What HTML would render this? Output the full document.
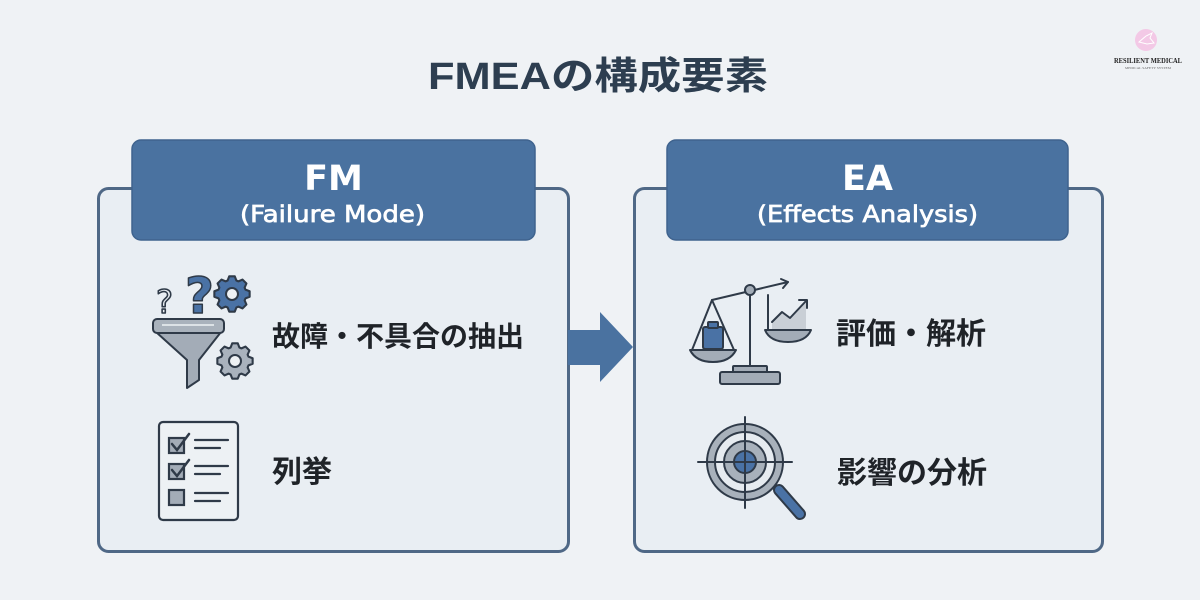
<!DOCTYPE html>
<html lang="ja">
<head>
<meta charset="utf-8">
<style>
  html,body{margin:0;padding:0;background:#eff2f5;}
  body{width:1200px;height:600px;overflow:hidden;}
  svg{display:block;}
  .jp{font-family:"Liberation Sans","Noto Sans CJK JP",sans-serif;}
  .lat{font-family:"DejaVu Sans","Liberation Sans",sans-serif;}
</style>
</head>
<body>
<svg width="1200" height="600" viewBox="0 0 1200 600" xmlns="http://www.w3.org/2000/svg">
  <defs>
    <polygon id="gear" points="12.84,-4.17 16.8,-2.65 16.8,2.65 12.84,4.17 12.03,6.13 13.75,10 10,13.75 6.13,12.03 4.17,12.84 2.65,16.8 -2.65,16.8 -4.17,12.84 -6.13,12.03 -10,13.75 -13.75,10 -12.03,6.13 -12.84,4.17 -16.8,2.65 -16.8,-2.65 -12.84,-4.17 -12.03,-6.13 -13.75,-10 -10,-13.75 -6.13,-12.03 -4.17,-12.84 -2.65,-16.8 2.65,-16.8 4.17,-12.84 6.13,-12.03 10,-13.75 13.75,-10 12.03,-6.13"/>
  </defs>
  <rect x="0" y="0" width="1200" height="600" fill="#eff2f5"/>

  <!-- Title -->
  <text class="jp" x="428" y="89" font-size="38" font-weight="700" fill="#2d3e50" textLength="340" lengthAdjust="spacingAndGlyphs">FMEAの構成要素</text>

  <!-- Logo -->
  <circle cx="1146" cy="40" r="11" fill="#f3c9e6"/>
  <path d="M1139 42 L1146 36 L1152 33 L1150 38 L1154 43 L1147 44 Z" fill="none" stroke="#ffffff" stroke-width="1"/>
  <text x="1148" y="63" font-family="Liberation Serif, serif" font-size="7.5" font-weight="700" fill="#222" text-anchor="middle" textLength="68" lengthAdjust="spacingAndGlyphs">RESILIENT MEDICAL</text>
  <text x="1148" y="69" font-family="Liberation Serif, serif" font-size="3" fill="#666" text-anchor="middle" textLength="46" lengthAdjust="spacingAndGlyphs">MEDICAL SAFETY SYSTEM</text>

  <!-- Left panel -->
  <rect x="98.5" y="188.5" width="470" height="363" rx="10" fill="#e9eef3" stroke="#4f6886" stroke-width="3"/>
  <rect x="132" y="140" width="403" height="100" rx="9" fill="#4a72a0" stroke="#3f638e" stroke-width="1.5"/>
  <text class="lat" x="333.5" y="190" font-size="35" font-weight="700" fill="#ffffff" text-anchor="middle">FM</text>
  <text class="lat" x="240" y="222" font-size="23" fill="#ffffff" stroke="#ffffff" stroke-width="0.7" textLength="185" lengthAdjust="spacingAndGlyphs">(Failure Mode)</text>

  <!-- Right panel -->
  <rect x="634.5" y="188.5" width="468" height="363" rx="10" fill="#e9eef3" stroke="#4f6886" stroke-width="3"/>
  <rect x="667" y="140" width="401" height="100" rx="9" fill="#4a72a0" stroke="#3f638e" stroke-width="1.5"/>
  <text class="lat" x="867.5" y="190" font-size="35" font-weight="700" fill="#ffffff" text-anchor="middle">EA</text>
  <text class="lat" x="757" y="222" font-size="23" fill="#ffffff" stroke="#ffffff" stroke-width="0.7" textLength="221" lengthAdjust="spacingAndGlyphs">(Effects Analysis)</text>

  <!-- Arrow -->
  <polygon points="568,330 600,330 600,312 633,347 600,382 600,365 568,365" fill="#4a72a0"/>

  <!-- Body labels -->
  <text class="jp" x="272" y="346" font-size="28" font-weight="700" fill="#1f2328" textLength="252" lengthAdjust="spacingAndGlyphs">故障・不具合の抽出</text>
  <text class="jp" x="272" y="482" font-size="30" font-weight="700" fill="#1f2328">列挙</text>
  <text class="jp" x="836" y="344" font-size="30" font-weight="700" fill="#1f2328" textLength="150" lengthAdjust="spacingAndGlyphs">評価・解析</text>
  <text class="jp" x="837" y="483" font-size="30" font-weight="700" fill="#1f2328" textLength="150" lengthAdjust="spacingAndGlyphs">影響の分析</text>

  <!-- Funnel icon -->
  <g stroke="#2f3a48" stroke-width="2" stroke-linejoin="round">
    <text x="156" y="313" font-family="DejaVu Sans, sans-serif" font-size="32" fill="none" stroke="#2f3a48" stroke-width="1.6">?</text>
    <text x="185" y="313" font-family="DejaVu Sans, sans-serif" font-size="50" font-weight="700" fill="#4a72a5" stroke="#2f3a48" stroke-width="1.5">?</text>
    <use href="#gear" transform="translate(232,294) scale(1.05)" fill="#4a72a5"/>
    <circle cx="232" cy="294" r="6" fill="#eef1f4"/>
    <polygon points="156,332 221,332 199,360 199,380 187,388 187,360" fill="#a3acb7"/>
    <rect x="153" y="319" width="71" height="14" rx="4" fill="#a9b2bc"/>
    <line x1="162" y1="325" x2="214" y2="325" stroke="#eef1f4" stroke-width="1.5"/>
    <use href="#gear" transform="translate(235,361) scale(1.05)" fill="#a9b2bd"/>
    <circle cx="235" cy="361" r="6" fill="#eef1f4"/>
  </g>

  <!-- Checklist icon -->
  <g stroke="#2f3a48" stroke-width="2.2" fill="none" stroke-linecap="round">
    <rect x="159" y="422" width="79" height="98" rx="4" fill="#edf1f4"/>
    <rect x="169" y="438" width="15" height="15" fill="#a3acb7"/>
    <rect x="169" y="464" width="15" height="15" fill="#a3acb7"/>
    <rect x="169" y="490" width="15" height="15" fill="#a3acb7"/>
    <path d="M172 444 L177 450 L189 434" stroke-width="2.5"/>
    <path d="M172 470 L177 476 L189 460" stroke-width="2.5"/>
    <line x1="195" y1="440" x2="228" y2="440"/>
    <line x1="195" y1="448" x2="220" y2="448"/>
    <line x1="195" y1="466" x2="228" y2="466"/>
    <line x1="195" y1="474" x2="220" y2="474"/>
    <line x1="195" y1="493" x2="228" y2="493"/>
    <line x1="195" y1="501" x2="220" y2="501"/>
  </g>

  <!-- Scale icon -->
  <g stroke="#2f3a48" stroke-width="2" stroke-linejoin="round" stroke-linecap="round">
    <line x1="750" y1="290" x2="750" y2="372"/>
    <line x1="712" y1="300" x2="788" y2="282"/>
    <path d="M781 279 L788 282 L783 288" fill="none"/>
    <line x1="712" y1="300" x2="692" y2="350"/>
    <line x1="712" y1="300" x2="734" y2="350"/>
    <rect x="703" y="327" width="20" height="22" rx="2" fill="#4a72a5"/>
    <rect x="708" y="322" width="10" height="6" rx="1" fill="#4a72a5"/>
    <path d="M690 350 L736 350 Q730 362 713 362 Q696 362 690 350 Z" fill="#a3acb7"/>
    <circle cx="750" cy="290" r="5" fill="#a3acb7"/>
    <line x1="768" y1="295" x2="768" y2="330"/>
    <polygon points="772,322 782,312 790,318 806,302 806,330 772,330" fill="#c9cfd6" stroke="none"/>
    <polyline points="772,322 782,312 790,318 806,301" fill="none"/>
    <path d="M799 300 L807 300 L807 308" fill="none"/>
    <path d="M765 330 L811 330 Q806 342 788 342 Q770 342 765 330 Z" fill="#a3acb7"/>
    <rect x="733" y="366" width="34" height="6" rx="1" fill="#a3acb7"/>
    <rect x="720" y="372" width="60" height="12" rx="2" fill="#a3acb7"/>
  </g>

  <!-- Target / magnifier icon -->
  <g stroke="#2f3a48" stroke-width="2" stroke-linecap="round">
    <line x1="779" y1="490" x2="800" y2="514" stroke="#2f3a48" stroke-width="12"/>
    <line x1="779" y1="490" x2="800" y2="514" stroke="#4a72a5" stroke-width="8"/>
    <circle cx="745" cy="462" r="38" fill="#a8b1bb"/>
    <circle cx="745" cy="462" r="30" fill="#e6ebf0"/>
    <circle cx="745" cy="462" r="21" fill="#a8b1bb"/>
    <circle cx="745" cy="462" r="11" fill="#4a72a5"/>
    <line x1="698" y1="462" x2="792" y2="462"/>
    <line x1="745" y1="417" x2="745" y2="508"/>
  </g>
</svg>
</body>
</html>
